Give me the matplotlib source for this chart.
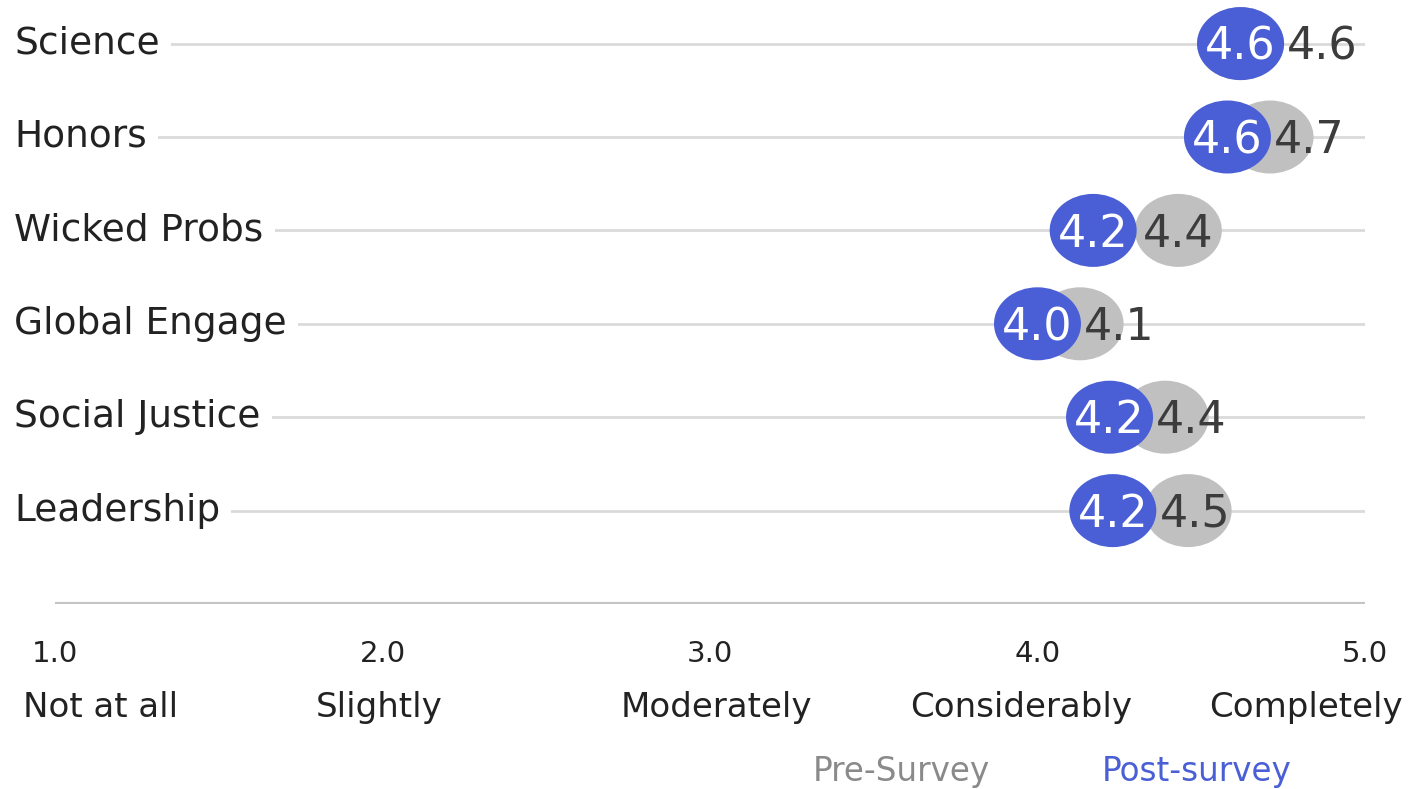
"""
Pre- vs post-survey mean ratings per programme area, drawn as overlapping
dots on a 1-5 agreement scale.
"""

import matplotlib.pyplot as plt
from matplotlib.patches import Ellipse

categories = ["Science", "Honors", "Wicked Probs", "Global Engage",
              "Social Justice", "Leadership"]
pre_survey = [4.62, 4.71, 4.43, 4.13, 4.39, 4.46]
post_survey = [4.62, 4.58, 4.17, 4.00, 4.22, 4.23]

scale_ticks = [1, 2, 3, 4, 5]
scale_words = ["Not at all", "Slightly", "Moderately", "Considerably", "Completely"]

PRE_COLOR = "#c0c0c0"
POST_COLOR = "#4a5fd5"
GRID_COLOR = "#dadada"
TEXT_COLOR = "#222222"

W, H = 1416, 789
fig = plt.figure(figsize=(W / 100, H / 100), dpi=100)
ax = fig.add_axes([55 / W, (H - 604) / H, 1310 / W, 604 / H])

n = len(categories)
ax.set_xlim(1, 5)
ax.set_ylim(n, n - 604 / 93.4)
for s in ax.spines.values():
    s.set_visible(False)

# row guides and the baseline under the last row
ax.hlines(range(n), 1, 5, color=GRID_COLOR, lw=2, zorder=0)
ax.axhline(n, color="#c4c4c4", lw=3, zorder=0)

dot_w = 87 / 327.5
dot_h = 73 / 93.4

for i, (pre, post) in enumerate(zip(pre_survey, post_survey)):
    ax.add_patch(Ellipse((pre, i), dot_w, dot_h, color=PRE_COLOR, lw=0, zorder=2))
    ax.add_patch(Ellipse((post, i), dot_w, dot_h, color=POST_COLOR, lw=0, zorder=3))
    ax.text(post, i + 0.04, f"{post:.1f}", color="white", fontsize=32,
            ha="center", va="center", zorder=4)
    # keep the pre label clear of the post label
    lx = max(pre, post + 0.25)
    ax.text(lx, i + 0.04, f"{pre:.1f}", color="#3c3c3c", fontsize=32,
            ha="center", va="center", zorder=5)

for i, name in enumerate(categories):
    ax.text(0.875, i, name, color=TEXT_COLOR, fontsize=27, ha="left",
            va="center", zorder=1, clip_on=False,
            bbox=dict(boxstyle="square,pad=0.3", fc="white", ec="none"))

ax.set_yticks([])
ax.set_xticks(scale_ticks)
ax.set_xticklabels([f"{t:.1f}" for t in scale_ticks], fontsize=21, color=TEXT_COLOR)
ax.tick_params(axis="x", length=0, pad=26)

# verbal anchors under the numeric scale, pulled inward at the ends
word_x = [1.14, 1.99, 3.02, 3.95, 4.82]
for x, word in zip(word_x, scale_words):
    ax.text(x, n + 1.11, word, fontsize=24.5, color=TEXT_COLOR,
            ha="center", va="center", clip_on=False)

fig.text(901 / W, 1 - 772 / H, "Pre-Survey", color="#8a8a8a", fontsize=23.5,
         ha="center", va="center")
fig.text(1197 / W, 1 - 772 / H, "Post-survey", color=POST_COLOR, fontsize=23.5,
         ha="center", va="center")

fig.savefig("out.png", dpi=100, facecolor="white")
